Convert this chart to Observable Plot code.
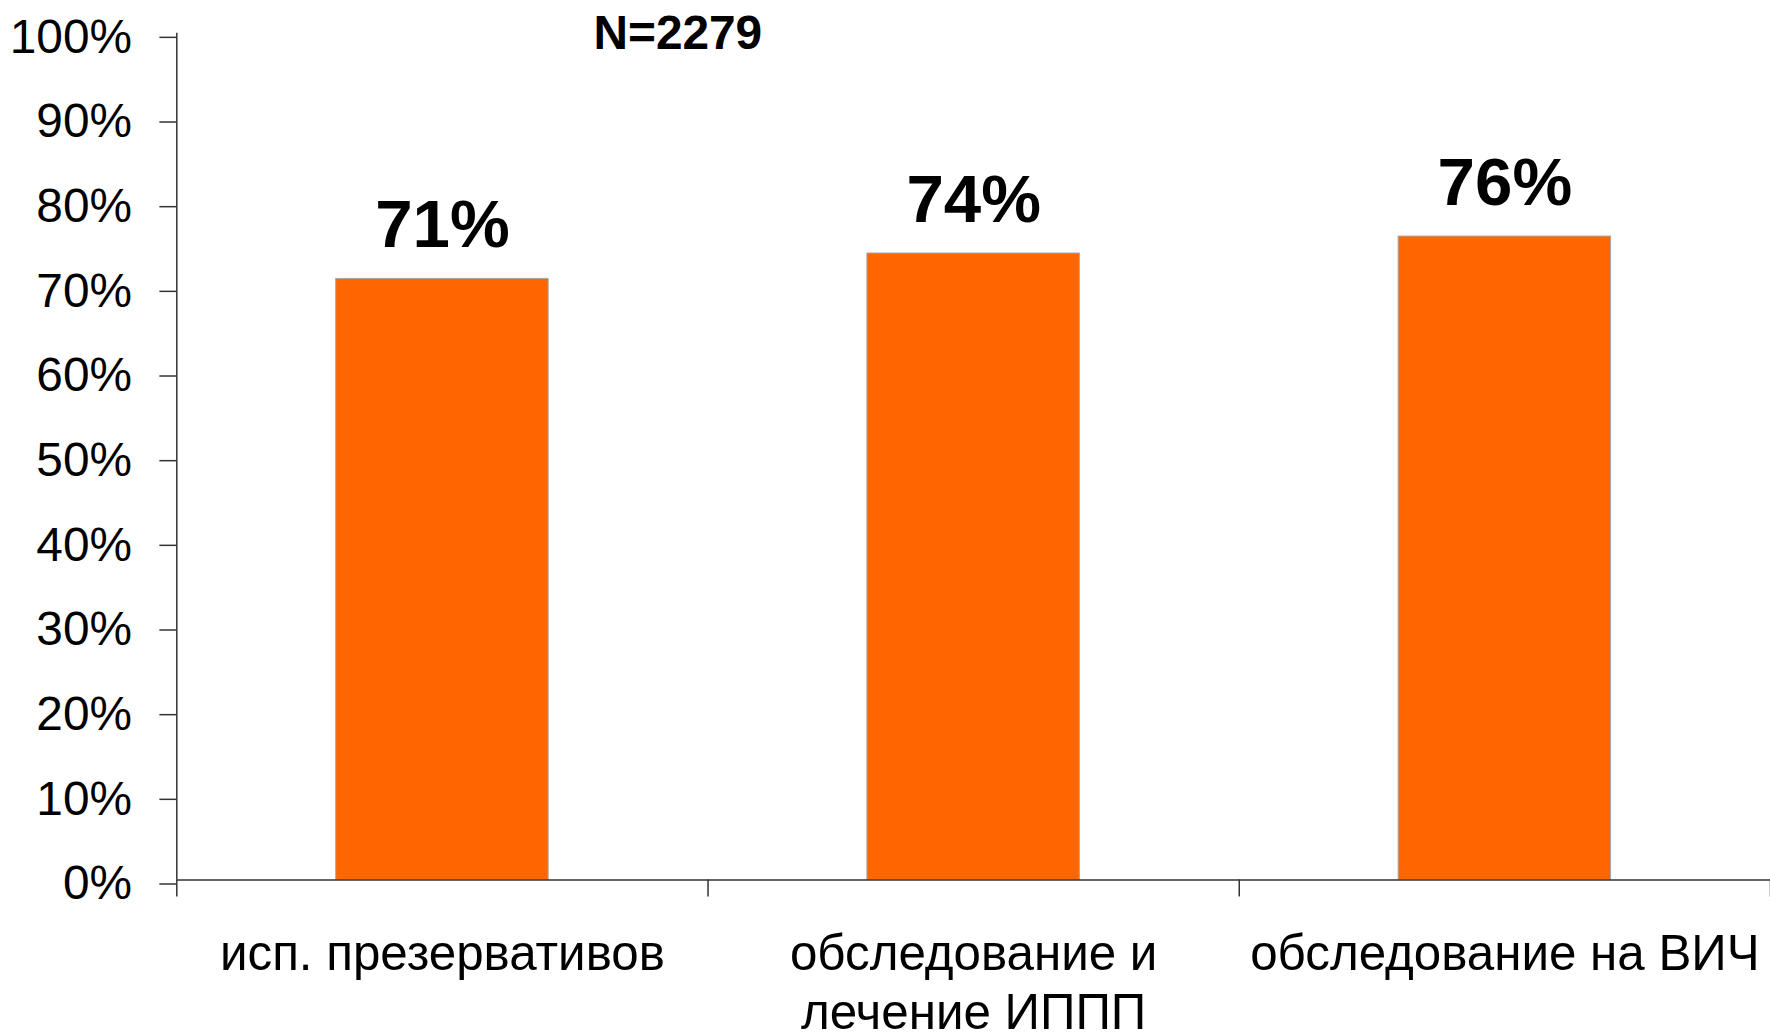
<!DOCTYPE html>
<html>
<head>
<meta charset="utf-8">
<script src="https://cdn.jsdelivr.net/npm/d3@7"></script>
<script src="https://cdn.jsdelivr.net/npm/@observablehq/plot@0.6"></script>
<style>
  html, body { margin: 0; padding: 0; background: #fff; overflow: hidden; }
  #chart svg { display: block; }
</style>
</head>
<body>
<div id="chart"></div>
<script>
const categories = ["исп. презервативов", "обследование и\nлечение ИППП", "обследование на ВИЧ"];
const values = [71, 74, 76];
const yTicks = [0, 10, 20, 30, 40, 50, 60, 70, 80, 90, 100];
const sampleLabel = "N=2279";

const data = categories.map((c, i) => ({i, category: c, value: values[i]}));
const bandEdges = d3.range(categories.length + 1);

const font = "'Liberation Sans', Arial, sans-serif";
const axisColor = "#333";

const chart = Plot.plot({
  width: 1777,
  height: 1034,
  marginLeft: 177,
  marginRight: 0,
  marginTop: 33,
  marginBottom: 151,
  style: {fontFamily: font, background: "#fff", color: "#000"},
  x: {type: "linear", domain: [0, categories.length], axis: null},
  y: {type: "linear", domain: [0, 100], axis: null},
  marks: [
    Plot.rectY(data, {
      x1: d => d.i + 0.3,
      x2: d => d.i + 0.7,
      y1: 0,
      y2: "value",
      fill: "#FF6600",
      stroke: "#a8a8a8",
      strokeWidth: 1
    }),
    Plot.ruleY([0], {stroke: axisColor, strokeWidth: 1.5}),
    Plot.ruleX([0], {y1: 0, y2: 100, stroke: axisColor, strokeWidth: 1.5}),
    Plot.axisY({
      ticks: yTicks,
      tickFormat: d => d + "%",
      tickSize: 17,
      tickPadding: 28,
      fontSize: 48,
      dy: 4,
      label: null,
      stroke: axisColor,
      strokeWidth: 1.5,
      fill: "#000"
    }),
    Plot.axisX({
      ticks: bandEdges,
      tickFormat: () => "",
      tickSize: 17,
      label: null,
      stroke: axisColor,
      strokeWidth: 1.5
    }),
    Plot.text(data, {
      x: d => d.i + 0.5,
      y: 0,
      text: "category",
      lineAnchor: "top",
      lineHeight: 1.2,
      dy: 48,
      fontSize: 49.5,
      fill: "#000"
    }),
    Plot.text(data, {
      x: d => d.i + 0.5,
      y: "value",
      text: d => d.value + "%",
      lineAnchor: "bottom",
      dy: -32,
      fontSize: 67.5,
      fontWeight: "bold",
      fill: "#000"
    }),
    Plot.text([sampleLabel], {
      frameAnchor: "top-left",
      text: d => d,
      textAnchor: "middle",
      lineAnchor: "bottom",
      dx: 503,
      dy: 16,
      fontSize: 48,
      fontWeight: "bold",
      fill: "#000"
    })
  ]
});
document.getElementById("chart").appendChild(chart);
</script>
</body>
</html>
